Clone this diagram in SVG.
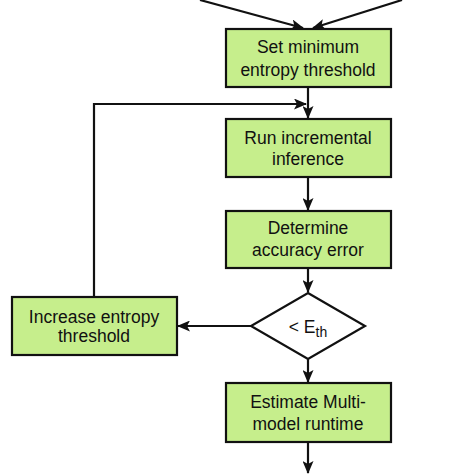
<svg xmlns="http://www.w3.org/2000/svg" width="474" height="474" viewBox="0 0 474 474">
<style>
.box{fill:#c6ee8c;stroke:#111;stroke-width:2.2}
.t{font-family:"Liberation Sans",Arial,sans-serif;font-size:17.5px;fill:#111;text-anchor:middle}
.c{fill:none;stroke:#111;stroke-width:2.2}
</style>
<defs>
<marker id="ah" viewBox="0 0 13 11" refX="12" refY="5.5" markerWidth="13" markerHeight="11" markerUnits="userSpaceOnUse" orient="auto">
<path d="M0,0 L13,5.5 L0,11 L3,5.5 Z" fill="#111"/>
</marker>
</defs>
<rect width="474" height="474" fill="#fff"/>
<g id="connectors">
<line class="c" x1="200" y1="0" x2="303" y2="28" marker-end="url(#ah)"/>
<line class="c" x1="402" y1="0" x2="313" y2="28" marker-end="url(#ah)"/>
<line class="c" x1="308" y1="87" x2="308" y2="118" marker-end="url(#ah)"/>
<polyline class="c" points="94,297 94,104 306,104" marker-end="url(#ah)"/>
<line class="c" x1="308" y1="177" x2="308" y2="210" marker-end="url(#ah)"/>
<line class="c" x1="308" y1="268" x2="308" y2="292" marker-end="url(#ah)"/>
<line class="c" x1="251" y1="326" x2="178" y2="326" marker-end="url(#ah)"/>
<line class="c" x1="308" y1="359" x2="308" y2="382" marker-end="url(#ah)"/>
<line class="c" x1="308" y1="442" x2="308" y2="473" marker-end="url(#ah)"/>
</g>
<g id="n1">
<rect class="box" x="226" y="29" width="165" height="58"/>
<text class="t" x="308" y="53">Set minimum</text>
<text class="t" x="308" y="76">entropy threshold</text>
</g>
<g id="n2">
<rect class="box" x="226" y="119" width="165" height="58"/>
<text class="t" x="308" y="144">Run incremental</text>
<text class="t" x="308" y="165">inference</text>
</g>
<g id="n3">
<rect class="box" x="226" y="211" width="165" height="57"/>
<text class="t" x="308" y="234">Determine</text>
<text class="t" x="308" y="256">accuracy error</text>
</g>
<g id="n4">
<polygon points="308,293 365,326 308,359 251,326" fill="#fff" stroke="#111" stroke-width="2.2"/>
<text class="t" x="308" y="333" font-size="19">&lt; E<tspan font-size="14" dy="4">th</tspan></text>
</g>
<g id="n5">
<rect class="box" x="12" y="297" width="165" height="58"/>
<text class="t" x="94" y="323">Increase entropy</text>
<text class="t" x="94" y="342">threshold</text>
</g>
<g id="n6">
<rect class="box" x="226" y="383" width="165" height="59"/>
<text class="t" x="308" y="408">Estimate Multi-</text>
<text class="t" x="308" y="430">model runtime</text>
</g>
</svg>
